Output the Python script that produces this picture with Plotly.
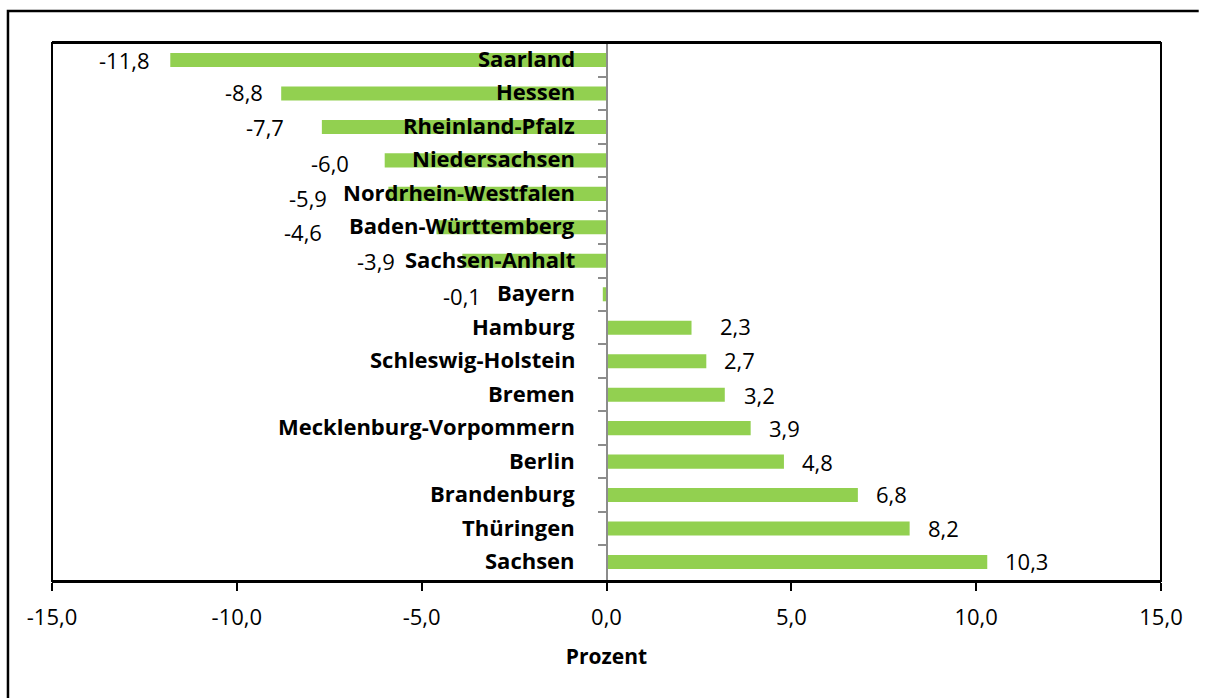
import plotly.graph_objects as go

# ---- data ----
states = ["Saarland", "Hessen", "Rheinland-Pfalz", "Niedersachsen",
          "Nordrhein-Westfalen", "Baden-Württemberg", "Sachsen-Anhalt", "Bayern",
          "Hamburg", "Schleswig-Holstein", "Bremen", "Mecklenburg-Vorpommern",
          "Berlin", "Brandenburg", "Thüringen", "Sachsen"]
change = [-11.8, -8.8, -7.7, -6.0, -5.9, -4.6, -3.9, -0.1,
          2.3, 2.7, 3.2, 3.9, 4.8, 6.8, 8.2, 10.3]
x_ticks = [-15, -10, -5, 0, 5, 10, 15]
x_tick_labels = ["-15,0", "-10,0", "-5,0", "0,0", "5,0", "10,0", "15,0"]
axis_title = "Prozent"

# ---- label placement tweaks (pixels, layout only) ----
label_gap_px = [18, 16, 36, 34, 59, 112, 65, 120, 26, 16, 17, 16, 16, 16, 16, 16]
label_dy_px = [2, 1, 2, 5, 6, 7, 2, 4, 0, 1, 2, 2, 2, 1, 1, 1]

FONT = "Open Sans"
GREEN = "#92D050"

fig = go.Figure()
fig.add_trace(go.Bar(
    x=change, y=states, orientation="h",
    marker=dict(color=GREEN, line=dict(width=0)),
    hoverinfo="x+y",
))

annotations = []
for s, v, gap, dy in zip(states, change, label_gap_px, label_dy_px):
    # category label, right-aligned just left of the zero line
    annotations.append(dict(
        x=0, y=s, xref="x", yref="y", xshift=-30, yshift=2,
        xanchor="right", yanchor="middle",
        text="<b>%s</b>" % s, showarrow=False,
        font=dict(family=FONT, size=22, color="black"),
    ))
    # value label
    txt = ("%.1f" % v).replace(".", ",")
    annotations.append(dict(
        x=v, y=s, xref="x", yref="y",
        xshift=(-gap if v < 0 else gap), yshift=2 - dy,
        xanchor=("right" if v < 0 else "left"), yanchor="middle",
        text=txt, showarrow=False,
        font=dict(family=FONT, size=22, color="black"),
    ))

fig.update_layout(
    width=1205, height=698,
    margin=dict(l=52, r=44, t=43, b=117),
    paper_bgcolor="white", plot_bgcolor="white",
    bargap=0.58,
    showlegend=False,
    font=dict(family=FONT, size=22, color="black"),
    annotations=annotations,
    xaxis=dict(
        range=[-15, 15], tickmode="array", tickvals=x_ticks, ticktext=x_tick_labels,
        showline=True, linecolor="black", linewidth=2, mirror=True,
        ticks="outside", ticklen=8, tickwidth=1.5, tickcolor="black",
        showgrid=False, zeroline=False, ticklabelstandoff=8,
        tickfont=dict(family=FONT, size=22, color="black"),
        title=dict(text="<b>%s</b>" % axis_title, standoff=19,
                   font=dict(family=FONT, size=21, color="black")),
    ),
    yaxis=dict(
        type="category", categoryorder="array", categoryarray=states,
        autorange="reversed",
        anchor="free", position=0.5,
        showline=True, linecolor="#8c8c8c", linewidth=2,
        ticks="outside", tickson="boundaries", ticklen=8, tickwidth=1.5, tickcolor="#8c8c8c",
        showticklabels=False, showgrid=False, zeroline=False,
    ),
    shapes=[
        dict(type="rect", xref="paper", yref="paper", x0=0, x1=1, y0=0, y1=1,
             line=dict(color="black", width=2), layer="above"),
        # outer chart frame: only its top and left edges fall inside the picture
        dict(type="path", xref="paper", yref="paper",
             path="M -0.0397,-0.22 L -0.0397,1.0595 L 1.034,1.0595",
             line=dict(color="black", width=2.5), layer="above"),
    ],
)

fig.write_html("out.html")
